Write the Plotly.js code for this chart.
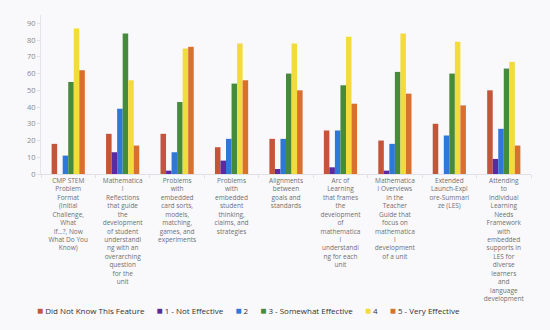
<!DOCTYPE html>
<html>
<head>
<meta charset="utf-8">
<script src="https://cdn.plot.ly/plotly-3.0.1.min.js"></script>
<style>html,body{margin:0;padding:0;background:#ffffff;}#chart{width:550px;height:330px;}</style>
</head>
<body>
<div id="chart"></div>
<script>
var categories = [
  "CMP STEM<br>Problem<br>Format<br>(Initial<br>Challenge,<br>What<br>If...?, Now<br>What Do You<br>Know)",
  "Mathematica<br>l<br>Reflections<br>that guide<br>the<br>development<br>of student<br>understandi<br>ng with an<br>overarching<br>question<br>for the<br>unit",
  "Problems<br>with<br>embedded<br>card sorts,<br>models,<br>matching,<br>games, and<br>experiments",
  "Problems<br>with<br>embedded<br>student<br>thinking,<br>claims, and<br>strategies",
  "Alignments<br>between<br>goals and<br>standards",
  "Arc of<br>Learning<br>that frames<br>the<br>development<br>of<br>mathematica<br>l<br>understandi<br>ng for each<br>unit",
  "Mathematica<br>l Overviews<br>in the<br>Teacher<br>Guide that<br>focus on<br>mathematica<br>l<br>development<br>of a unit",
  "Extended<br>Launch-Expl<br>ore-Summari<br>ze (LES)",
  "Attending<br>to<br>Individual<br>Learning<br>Needs<br>Framework<br>with<br>embedded<br>supports in<br>LES for<br>diverse<br>learners<br>and<br>language<br>development"
];

var seriesNames = ["Did Not Know This Feature", "1 - Not Effective", "2", "3 - Somewhat Effective", "4", "5 - Very Effective"];
var didNotKnow      = [18, 24, 24, 16, 21, 26, 20, 30, 50];
var notEffective    = [0, 13, 2, 8, 3, 4, 2, 0, 9];
var two             = [11, 39, 13, 21, 21, 26, 18, 23, 27];
var somewhatEff     = [55, 84, 43, 54, 60, 53, 61, 60, 63];
var four            = [87, 56, 75, 78, 78, 82, 84, 79, 67];
var veryEffective   = [62, 17, 76, 56, 50, 42, 48, 41, 17];
var seriesValues = [didNotKnow, notEffective, two, somewhatEff, four, veryEffective];
var colors = ["#c4553a", "#5b2aa0", "#2f78d8", "#468a3c", "#f2dc3c", "#d9702e"];

var traces = seriesNames.map(function (name, i) {
  return {
    type: "bar",
    name: name,
    x: categories,
    y: seriesValues[i],
    marker: { color: colors[i], line: { width: 0 } },
    showlegend: false,
    hoverinfo: "none"
  };
});

var legendText = seriesNames.map(function (name, i) {
  return '<span style="font-size:10px;color:' + colors[i] + '">\u25A0</span>\u00a0' + name;
}).join("\u2003\u00a0\u00a0");

var layout = {
  width: 550,
  height: 330,
  margin: { l: 41, r: 19, t: 15, b: 156, pad: 0 },
  paper_bgcolor: "#f9f8fb",
  plot_bgcolor: "#f9f8fb",
  barmode: "group",
  bargap: 0.39,
  bargroupgap: 0,
  font: { family: "Open Sans, sans-serif", color: "#555" },
  xaxis: {
    type: "category",
    showgrid: false,
    showline: true,
    linecolor: "#e2e0e6",
    linewidth: 1,
    ticks: "outside",
    tickson: "boundaries",
    ticklen: 3,
    tickcolor: "#e2e0e6",
    tickangle: 0,
    tickfont: { family: "Open Sans, sans-serif", size: 6.5, color: "#707070" },
    automargin: false
  },
  yaxis: {
    range: [0, 95],
    dtick: 10,
    showgrid: false,
    zeroline: false,
    showline: true,
    linecolor: "#e6e4ea",
    linewidth: 1,
    ticks: "outside",
    ticklen: 3,
    tickcolor: "#e2e0e6",
    tickfont: { family: "Open Sans, sans-serif", size: 7.5, color: "#8a8a8a" },
    automargin: false
  },
  annotations: [{
    xref: "paper", yref: "paper",
    x: -0.012, y: -0.855,
    xanchor: "left", yanchor: "middle",
    showarrow: false,
    text: legendText,
    font: { family: "Open Sans, sans-serif", size: 8, color: "#333" }
  }]
};

Plotly.newPlot("chart", traces, layout, { staticPlot: true, displayModeBar: false });
</script>
</body>
</html>
